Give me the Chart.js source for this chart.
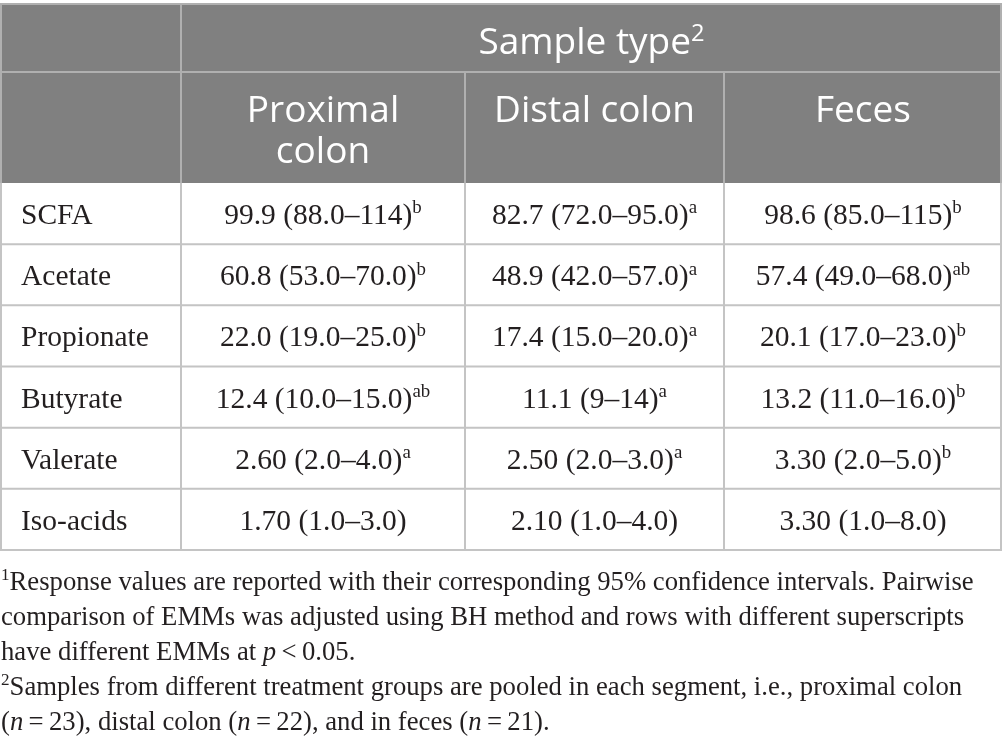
<!DOCTYPE html>
<html>
<head>
<meta charset="utf-8">
<script src="https://cdn.jsdelivr.net/npm/chart.js@4/dist/chart.umd.min.js"></script>
<style>
  html, body { margin: 0; padding: 0; background: #ffffff; }
  canvas { display: block; }
</style>
</head>
<body>
<canvas id="table" width="1004" height="753"></canvas>
<script>
// table content
var sampleTypes = ['Proximal colon', 'Distal colon', 'Feces'];
var acids = ['SCFA', 'Acetate', 'Propionate', 'Butyrate', 'Valerate', 'Iso-acids'];

var proximalEst  = ['99.9', '60.8', '22.0', '12.4', '2.60', '1.70'];
var proximalLow  = ['88.0', '53.0', '19.0', '10.0', '2.0', '1.0'];
var proximalHigh = ['114', '70.0', '25.0', '15.0', '4.0', '3.0'];
var proximalSup  = ['b', 'b', 'b', 'ab', 'a', ''];

var distalEst  = ['82.7', '48.9', '17.4', '11.1', '2.50', '2.10'];
var distalLow  = ['72.0', '42.0', '15.0', '9', '2.0', '1.0'];
var distalHigh = ['95.0', '57.0', '20.0', '14', '3.0', '4.0'];
var distalSup  = ['a', 'a', 'a', 'a', 'a', ''];

var fecesEst  = ['98.6', '57.4', '20.1', '13.2', '3.30', '3.30'];
var fecesLow  = ['85.0', '49.0', '17.0', '11.0', '2.0', '1.0'];
var fecesHigh = ['115', '68.0', '23.0', '16.0', '5.0', '8.0'];
var fecesSup  = ['b', 'ab', 'b', 'b', 'b', ''];

var columns = [
    { est: proximalEst, low: proximalLow, high: proximalHigh, sup: proximalSup },
    { est: distalEst, low: distalLow, high: distalHigh, sup: distalSup },
    { est: fecesEst, low: fecesLow, high: fecesHigh, sup: fecesSup }
];

// layout
var colEdges = [0, 181, 465, 724, 1002];
var headerTop = 4, headerSplit = 72, headerBottom = 183, tableBottom = 550;
var serif = '"Liberation Serif", "Times New Roman", serif';
var sans = '"Open Sans", "Noto Sans", sans-serif';
var bodySize = 29.5, headSize = 37, noteSize = 26.7;
var gridColor = '#c4c4c4';
var headGrid = '#b0b0b0';
var headFill = '#808080';
var textColor = '#231f20';

// runs: [{t: text, s: 'sup' | 'it' | ''}]
function fontFor(run, size, family) {
    if (run.s === 'sup') return (size * 0.64).toFixed(1) + 'px ' + family;
    if (run.s === 'it') return 'italic ' + size + 'px ' + family;
    return size + 'px ' + family;
}
function runsWidth(ctx, runs, size, family) {
    var w = 0;
    runs.forEach(function(r) {
        ctx.font = fontFor(r, size, family);
        w += ctx.measureText(r.t).width;
    });
    return w;
}
function drawRuns(ctx, runs, x, y, size, family, align) {
    var w = runsWidth(ctx, runs, size, family);
    var cx = align === 'center' ? x - w / 2 : x;
    ctx.textAlign = 'left';
    ctx.textBaseline = 'alphabetic';
    runs.forEach(function(r) {
        ctx.font = fontFor(r, size, family);
        var dy = r.s === 'sup' ? -size * 0.36 : 0;
        ctx.fillText(r.t, cx, y + dy);
        cx += ctx.measureText(r.t).width;
    });
}

var notes = [
    [{t: '1', s: 'sup'}, {t: 'Response values are reported with their corresponding 95% confidence intervals. Pairwise', s: ''}],
    [{t: 'comparison of EMMs was adjusted using BH method and rows with different superscripts', s: ''}],
    [{t: 'have different EMMs at ', s: ''}, {t: 'p', s: 'it'}, {t: '\u2009<\u20090.05.', s: ''}],
    [{t: '2', s: 'sup'}, {t: 'Samples from different treatment groups are pooled in each segment, i.e., proximal colon', s: ''}],
    [{t: '(', s: ''}, {t: 'n', s: 'it'}, {t: '\u2009=\u200923), distal colon (', s: ''}, {t: 'n', s: 'it'},
     {t: '\u2009=\u200922), and in feces (', s: ''}, {t: 'n', s: 'it'}, {t: '\u2009=\u200921).', s: ''}]
];

var tablePlugin = {
    id: 'tablePlugin',
    afterDraw: function(chart) {
        var ctx = chart.ctx;
        var xs = chart.scales.x, ys = chart.scales.y;
        var band = ys.getPixelForValue(1) - ys.getPixelForValue(0);
        var left = xs.getPixelForValue(colEdges[0]);
        var right = xs.getPixelForValue(colEdges[colEdges.length - 1]);
        ctx.save();

        // header block
        ctx.fillStyle = headFill;
        ctx.fillRect(left, headerTop, right - left, headerBottom - headerTop);

        ctx.lineWidth = 2;
        ctx.strokeStyle = headGrid;
        ctx.beginPath();
        ctx.moveTo(left, headerTop); ctx.lineTo(right, headerTop);
        ctx.moveTo(left, headerSplit); ctx.lineTo(right, headerSplit);
        var x1 = xs.getPixelForValue(colEdges[1]);
        ctx.moveTo(x1, headerTop); ctx.lineTo(x1, headerBottom);
        for (var c = 2; c < colEdges.length - 1; c++) {
            var xc = xs.getPixelForValue(colEdges[c]);
            ctx.moveTo(xc, headerSplit); ctx.lineTo(xc, headerBottom);
        }
        ctx.moveTo(left + 1, headerTop); ctx.lineTo(left + 1, headerBottom);
        ctx.moveTo(right - 1, headerTop); ctx.lineTo(right - 1, headerBottom);
        ctx.stroke();

        // body grid
        ctx.strokeStyle = gridColor;
        ctx.beginPath();
        acids.forEach(function(a, i) {
            var yb = ys.getPixelForValue(i) + band / 2;
            ctx.moveTo(left, yb); ctx.lineTo(right, yb);
        });
        for (var e = 0; e < colEdges.length; e++) {
            var xe = xs.getPixelForValue(colEdges[e]);
            if (e === 0) xe += 1;
            if (e === colEdges.length - 1) xe -= 1;
            ctx.moveTo(xe, headerBottom); ctx.lineTo(xe, tableBottom);
        }
        ctx.stroke();

        // header text
        ctx.fillStyle = '#ffffff';
        var spanMid = xs.getPixelForValue((colEdges[1] + colEdges[colEdges.length - 1]) / 2);
        drawRuns(ctx, [{t: 'Sample type', s: ''}, {t: '2', s: 'sup'}], spanMid, 54, headSize, sans, 'center');
        sampleTypes.forEach(function(name, j) {
            var mid = xs.getPixelForValue((colEdges[j + 1] + colEdges[j + 2]) / 2);
            var lines = name === 'Proximal colon' ? ['Proximal', 'colon'] : [name];
            lines.forEach(function(line, k) {
                drawRuns(ctx, [{t: line, s: ''}], mid, 122 + k * 41, headSize, sans, 'center');
            });
        });

        // body text
        ctx.fillStyle = textColor;
        acids.forEach(function(name, i) {
            var yc = ys.getPixelForValue(i) + 10.5;
            drawRuns(ctx, [{t: name, s: ''}], xs.getPixelForValue(21), yc, bodySize, serif, 'left');
            columns.forEach(function(col, j) {
                var mid = xs.getPixelForValue((colEdges[j + 1] + colEdges[j + 2]) / 2);
                var runs = [{t: col.est[i] + ' (' + col.low[i] + '\u2013' + col.high[i] + ')', s: ''}];
                if (col.sup[i]) runs.push({t: col.sup[i], s: 'sup'});
                drawRuns(ctx, runs, mid, yc, bodySize, serif, 'center');
            });
        });

        // footnotes
        notes.forEach(function(runs, k) {
            drawRuns(ctx, runs, xs.getPixelForValue(1), 590 + k * 35, noteSize, serif, 'left');
        });
        ctx.restore();
    }
};

new Chart(document.getElementById('table'), {
    type: 'scatter',
    data: { labels: acids, datasets: [] },
    options: {
        responsive: false,
        animation: false,
        devicePixelRatio: 1,
        layout: { padding: { top: headerBottom, bottom: 753 - tableBottom, left: 0, right: 2 } },
        scales: {
            x: { type: 'linear', min: colEdges[0], max: colEdges[colEdges.length - 1], display: false },
            y: { type: 'category', labels: acids, offset: true, display: false }
        },
        plugins: { legend: { display: false }, tooltip: { enabled: false } }
    },
    plugins: [tablePlugin]
});
</script>
</body>
</html>
